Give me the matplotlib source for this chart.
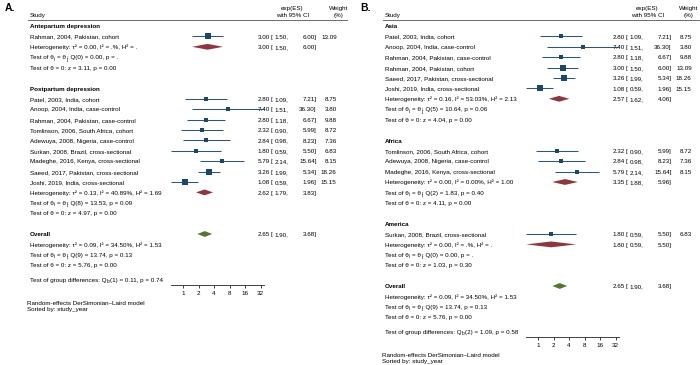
import re
import matplotlib
matplotlib.use("Agg")
import matplotlib.pyplot as plt
from matplotlib.transforms import blended_transform_factory as btf
from matplotlib.lines import Line2D

plt.rcParams['font.family'] = ['Liberation Sans', 'DejaVu Sans']

# ---------------- data: panel A (by timing) ----------------
groups_a = ["Antepartum depression", "Postpartum depression"]
studies_a = [
    ["Rahman, 2004, Pakistan, cohort"],
    ["Patel, 2003, India, cohort", "Anoop, 2004, India, case-control",
     "Rahman, 2004, Pakistan, case-control", "Tomlinson, 2006, South Africa, cohort",
     "Adewuya, 2008, Nigeria, case-control", "Surkan, 2008, Brazil, cross-sectional",
     "Madeghe, 2016, Kenya, cross-sectional", "Saeed, 2017, Pakistan, cross-sectional",
     "Joshi, 2019, India, cross-sectional"],
]
es_a = [[3.00], [2.80, 7.40, 2.80, 2.32, 2.84, 1.80, 5.79, 3.26, 1.08]]
lo_a = [[1.50], [1.09, 1.51, 1.18, 0.90, 0.98, 0.59, 2.14, 1.99, 0.59]]
hi_a = [[6.00], [7.21, 36.30, 6.67, 5.99, 8.23, 5.50, 15.64, 5.34, 1.96]]
wt_a = [[13.09], [8.75, 3.80, 9.88, 8.72, 7.36, 6.83, 8.15, 18.26, 15.15]]
pool_es_a = [3.00, 2.62]
pool_lo_a = [1.50, 1.79]
pool_hi_a = [6.00, 3.83]
het_a = ["Heterogeneity: τ² = 0.00, I² = .%, H² = .",
         "Heterogeneity: τ² = 0.13, I² = 40.89%, H² = 1.69"]
testq_a = ["Test of θ{i} = θ{j}: Q(0) = 0.00, p = .",
           "Test of θ{i} = θ{j}: Q(8) = 13.53, p = 0.09"]
testz_a = ["Test of θ = 0: z = 3.11, p = 0.00",
           "Test of θ = 0: z = 4.97, p = 0.00"]
groupdiff_a = "Test of group differences: Q{b}(1) = 0.11, p = 0.74"

# ---------------- data: panel B (by region) ----------------
groups_b = ["Asia", "Africa", "America"]
studies_b = [
    ["Patel, 2003, India, cohort", "Anoop, 2004, India, case-control",
     "Rahman, 2004, Pakistan, case-control", "Rahman, 2004, Pakistan, cohort",
     "Saeed, 2017, Pakistan, cross-sectional", "Joshi, 2019, India, cross-sectional"],
    ["Tomlinson, 2006, South Africa, cohort", "Adewuya, 2008, Nigeria, case-control",
     "Madeghe, 2016, Kenya, cross-sectional"],
    ["Surkan, 2008, Brazil, cross-sectional"],
]
es_b = [[2.80, 7.40, 2.80, 3.00, 3.26, 1.08], [2.32, 2.84, 5.79], [1.80]]
lo_b = [[1.09, 1.51, 1.18, 1.50, 1.99, 0.59], [0.90, 0.98, 2.14], [0.59]]
hi_b = [[7.21, 36.30, 6.67, 6.00, 5.34, 1.96], [5.99, 8.23, 15.64], [5.50]]
wt_b = [[8.75, 3.80, 9.88, 13.09, 18.26, 15.15], [8.72, 7.36, 8.15], [6.83]]
pool_es_b = [2.57, 3.35, 1.80]
pool_lo_b = [1.62, 1.88, 0.59]
pool_hi_b = [4.06, 5.96, 5.50]
het_b = ["Heterogeneity: τ² = 0.16, I² = 53.03%, H² = 2.13",
         "Heterogeneity: τ² = 0.00, I² = 0.00%, H² = 1.00",
         "Heterogeneity: τ² = 0.00, I² = .%, H² = ."]
testq_b = ["Test of θ{i} = θ{j}: Q(5) = 10.64, p = 0.06",
           "Test of θ{i} = θ{j}: Q(2) = 1.83, p = 0.40",
           "Test of θ{i} = θ{j}: Q(0) = 0.00, p = ."]
testz_b = ["Test of θ = 0: z = 4.04, p = 0.00",
           "Test of θ = 0: z = 4.11, p = 0.00",
           "Test of θ = 0: z = 1.03, p = 0.30"]
groupdiff_b = "Test of group differences: Q{b}(2) = 1.09, p = 0.58"

# ---------------- overall (same in both panels) ----------------
overall_es, overall_lo, overall_hi = 2.65, 1.90, 3.68
overall_het = "Heterogeneity: τ² = 0.09, I² = 34.50%, H² = 1.53"
overall_testq = "Test of θ{i} = θ{j}: Q(9) = 13.74, p = 0.13"
overall_testz = "Test of θ = 0: z = 5.76, p = 0.00"

xticks = [1, 2, 4, 8, 16, 32]
footnote = ["Random-effects DerSimonian\u2013Laird model", "Sorted by: study_year"]

# ---------------- styling ----------------
W, H = 700, 365
FS = 4.5
SUBFS = 3.4
NAVY = "#1a476f"
LINE = "#2b5582"
MAROON = "#90353b"
GREEN = "#55752f"
ROW0, DY = 26.0, 10.4            # pixel y of row 1 and row spacing
ONE_PX, PX_PER_DBL = 183.0, 15.5  # x pixel of value 1 and per doubling
XL, XR = 171.0, 264.0
BASE = 2.2 / DY                   # baseline offset (rows) from row centre

fig = plt.figure(figsize=(7, 3.65), dpi=100)
fig.patch.set_facecolor("white")
renderer = fig.canvas.get_renderer()


def text_w(s, size):
    t = fig.text(0, 0, s, fontsize=size)
    w = t.get_window_extent(renderer).width
    t.remove()
    return w


SPACE_W = text_w("x x", FS) - text_w("xx", FS)


def row_to_px(r):
    return ROW0 + (r - 1) * DY


def px_to_row(p):
    return (p - ROW0) / DY + 1


def rtext(ax, tr, x, r, s, ha="left", **kw):
    ax.text(x, r + BASE, s, transform=tr, ha=ha, va="baseline", fontsize=FS, **kw)


def subtext(ax, tr, xpx, r, s):
    """Left-aligned text where {x} marks a subscript; xpx in figure pixels."""
    parts = re.split(r"\{(.*?)\}", s)
    x = xpx
    for i, p in enumerate(parts):
        if not p:
            continue
        if i % 2 == 0:
            lead = len(p) - len(p.lstrip(" "))
            trail = len(p) - len(p.rstrip(" "))
            core = p.strip(" ")
            x += lead * SPACE_W
            if core:
                ax.text(x / W, r + BASE, core, transform=tr, ha="left", va="baseline", fontsize=FS)
                x += text_w(core, FS)
            x += trail * SPACE_W
        else:
            ax.text((x + 0.2) / W, r + BASE + 1.3 / DY, p, transform=tr, ha="left", va="baseline",
                    fontsize=SUBFS)
            x += text_w(p, SUBFS) + 0.4


def ftext(x, ypx, s, ha="left", **kw):
    fig.text(x, 1 - (ypx + 2.2) / H, s, ha=ha, va="baseline", fontsize=FS, **kw)


def ci_text(ax, tr, xo, r, es, lo, hi):
    rtext(ax, tr, (xo + 270) / W, r, f"{es:.2f}", ha="right")
    rtext(ax, tr, (xo + 270.8) / W, r, "[", ha="left")
    rtext(ax, tr, (xo + 288.5) / W, r, f"{lo:.2f},", ha="right")
    rtext(ax, tr, (xo + 316.7) / W, r, f"{hi:.2f}]", ha="right")


def diamond(ax, r, es, lo, hi, color):
    h = 0.28
    ax.fill([lo, es, hi, es], [r, r - h, r, r + h], color=color, lw=0, clip_on=False, zorder=3)


def panel(xo, whead, wval, letter, groups, studies, es, lo, hi, wt, pes, plo, phi, het, tq, tz, gdiff):
    r = 1
    layout = []
    for g in range(len(groups)):
        layout.append(("group", r, g)); r += 1
        for k in range(len(studies[g])):
            layout.append(("study", r, (g, k))); r += 1
        layout.append(("het", r, g)); r += 1
        layout.append(("tq", r, g)); r += 1
        layout.append(("tz", r, g)); r += 1
        r += 1  # blank
    r_overall = r
    r_gd = r_overall + 4.4
    axis_px = row_to_px(r_gd) + 5.2

    top_px = 20.0
    ax = fig.add_axes([(xo + XL) / W, 1 - axis_px / H, (XR - XL) / W, (axis_px - top_px) / H])
    ax.set_xscale("log", base=2)
    ax.set_xlim(2 ** ((XL - ONE_PX) / PX_PER_DBL), 2 ** ((XR - ONE_PX) / PX_PER_DBL))
    ax.set_ylim(px_to_row(axis_px), px_to_row(top_px))
    ax.patch.set_alpha(0)
    for s in ["top", "right", "left"]:
        ax.spines[s].set_visible(False)
    ax.spines["bottom"].set_linewidth(0.6)
    ax.spines["bottom"].set_color("#222222")
    ax.set_yticks([])
    ax.set_xticks(xticks)
    ax.set_xticklabels([str(t) for t in xticks])
    ax.minorticks_off()
    ax.tick_params(axis="x", labelsize=FS, length=2.5, width=0.6, pad=1.5, color="#222222")
    tr = btf(fig.transFigure, ax.transData)
    txp = xo + 30
    tx = txp / W

    for kind, rr, idx in layout:
        if kind == "group":
            rtext(ax, tr, tx, rr, groups[idx], fontweight="bold")
        elif kind == "study":
            g, k = idx
            rtext(ax, tr, tx, rr, studies[g][k])
            ax.hlines(rr, lo[g][k], hi[g][k], color=LINE, lw=0.75, clip_on=False, zorder=2)
            ax.scatter([es[g][k]], [rr], marker="s", s=1.28 * wt[g][k], color=NAVY, lw=0,
                       clip_on=False, zorder=3)
            ci_text(ax, tr, xo, rr, es[g][k], lo[g][k], hi[g][k])
            rtext(ax, tr, wval / W, rr, f"{wt[g][k]:.2f}", ha="right")
        elif kind == "het":
            rtext(ax, tr, tx, rr, het[idx])
            diamond(ax, rr, pes[idx], plo[idx], phi[idx], MAROON)
            ci_text(ax, tr, xo, rr, pes[idx], plo[idx], phi[idx])
        elif kind == "tq":
            subtext(ax, tr, txp, rr, tq[idx])
        elif kind == "tz":
            rtext(ax, tr, tx, rr, tz[idx])

    rtext(ax, tr, tx, r_overall, "Overall", fontweight="bold")
    diamond(ax, r_overall, overall_es, overall_lo, overall_hi, GREEN)
    ci_text(ax, tr, xo, r_overall, overall_es, overall_lo, overall_hi)
    rtext(ax, tr, tx, r_overall + 1, overall_het)
    subtext(ax, tr, txp, r_overall + 2, overall_testq)
    rtext(ax, tr, tx, r_overall + 3, overall_testz)
    subtext(ax, tr, txp, r_gd, gdiff)

    # headers
    fig.text((xo + 5) / W, 1 - 8 / H, letter, ha="left", va="center", fontsize=7.5, fontweight="bold")
    ftext(tx, 15, "Study")
    ftext((xo + 292) / W, 8, "exp(ES)", ha="center")
    ftext((xo + 292.5) / W, 14.5, "with 95% CI", ha="center")
    ftext(whead / W, 8, "Weight", ha="center")
    ftext((whead + 0.5) / W, 14.5, "(%)", ha="center")
    fig.add_artist(Line2D([(xo + 28) / W, min(xo + 347, 699) / W], [1 - 20 / H, 1 - 20 / H],
                          color="#555555", lw=0.6))
    ftext((xo + 27) / W, axis_px + 17.5, footnote[0])
    ftext((xo + 27) / W, axis_px + 24, footnote[1])


panel(0, 338.5, 336.7, "A.", groups_a, studies_a, es_a, lo_a, hi_a, wt_a,
      pool_es_a, pool_lo_a, pool_hi_a, het_a, testq_a, testz_a, groupdiff_a)
panel(355, 688.5, 691.7, "B.", groups_b, studies_b, es_b, lo_b, hi_b, wt_b,
      pool_es_b, pool_lo_b, pool_hi_b, het_b, testq_b, testz_b, groupdiff_b)

fig.savefig("out.png", dpi=100, facecolor="white")
